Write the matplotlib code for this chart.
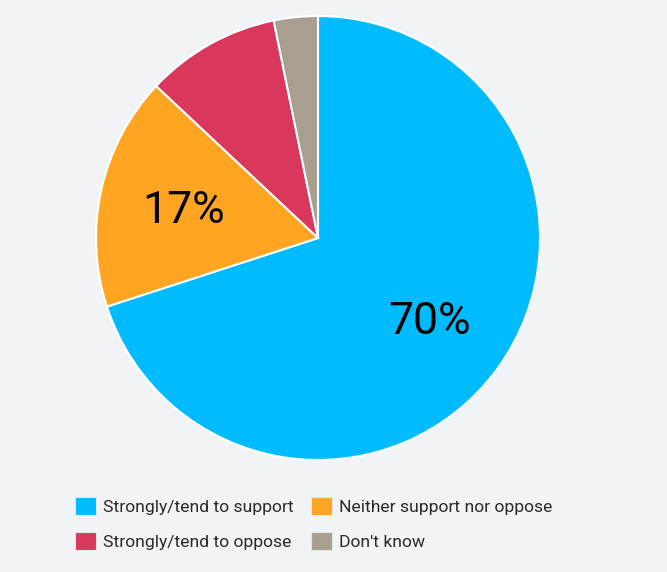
import matplotlib.pyplot as plt
from matplotlib.patches import Patch

plt.rcParams['font.family'] = ['Roboto', 'DejaVu Sans']

# chart data
categories = ['Strongly/tend to support', 'Neither support nor oppose',
              'Strongly/tend to oppose', "Don't know"]
values = [70, 17, 9.8, 3.2]
colors = ['#00BCFF', '#FFA521', '#D9375C', '#A89F8F']
bg = '#F0F4F7'

W, H = 667, 572
fig = plt.figure(figsize=(W / 100, H / 100), dpi=100, facecolor=bg)

# pie centre (318, 238) px, radius 222 px
cx, cy, r = 318, 238, 222
ax = fig.add_axes([(cx - r) / W, (H - cy - r) / H, 2 * r / W, 2 * r / H])
ax.set_facecolor(bg)

def label_fmt(p):
    # only the big slices carry a label
    return f'{p:.0f}%' if p >= 15 else ''

wedges, texts, autotexts = ax.pie(
    values, colors=colors, startangle=90, counterclock=False,
    autopct=label_fmt, pctdistance=0.62, radius=1.0,
    wedgeprops=dict(edgecolor='white', linewidth=1.5),
    textprops=dict(fontsize=32, color='black'))
# nudge the labels a little lower
for t in autotexts:
    x, y = t.get_position()
    t.set_position((x, y - 0.014))
ax.set_xlim(-1, 1)
ax.set_ylim(-1, 1)
ax.set_aspect('equal')
ax.axis('off')

# legend: two rows, two columns
handles = [Patch(facecolor=c, edgecolor='#E6E6E6', linewidth=0.8) for c in colors]
order = [0, 2, 1, 3]
leg = fig.legend([handles[i] for i in order], [categories[i] for i in order],
                 ncol=2, loc='upper left', bbox_to_anchor=(75 / W, 1 - 497 / H),
                 frameon=False, prop=dict(size=12.6),
                 handlelength=1.2, handleheight=1.2,
                 handletextpad=0.42, columnspacing=0.95, labelspacing=1.0,
                 borderaxespad=0, borderpad=0)
for t in leg.get_texts():
    t.set_color('#2A2A2A')

fig.savefig('out.png', dpi=100, facecolor=bg)
